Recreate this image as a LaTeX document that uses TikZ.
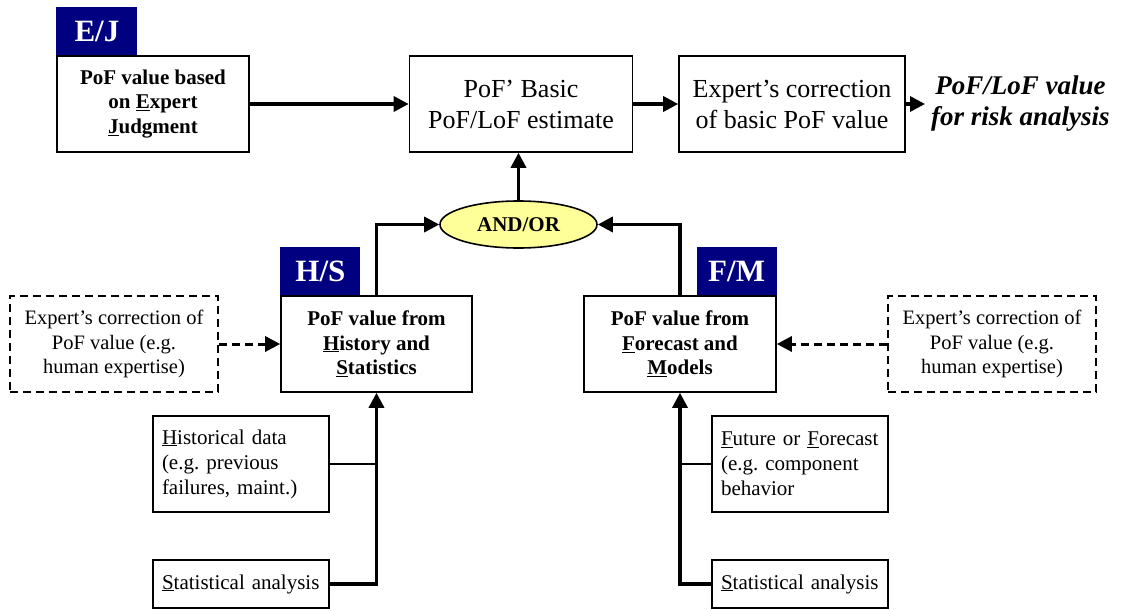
\documentclass[tikz,border=0pt]{standalone}
\usepackage{fontspec}
\setmainfont{Liberation Serif}
\usepackage{tikz}
\usetikzlibrary{shapes.geometric, arrows.meta, positioning}
\definecolor{tagnavy}{RGB}{0, 0, 128}
\definecolor{gateyellow}{RGB}{255, 255, 153}
\frenchspacing

\tikzset{
  pbox/.style={draw, line width=1.6pt, fill=white, align=center, inner sep=2pt, minimum height=96pt, font=\fontsize{26}{31}\selectfont},
  srcbox/.style={pbox, font=\bfseries\fontsize{21}{24.5}\selectfont},
  tag/.style={fill=tagnavy, text=white, minimum width=80pt, minimum height=48pt, inner sep=0pt, font=\bfseries\fontsize{31}{31}\selectfont},
  databox/.style={draw, line width=1.6pt, align=left, text width=158pt, inner xsep=9pt, inner ysep=2pt, font=\fontsize{21}{25}\selectfont},
  corrbox/.style={draw, line width=2.6pt, dash pattern=on 8pt off 5pt, align=center, minimum width=208pt, minimum height=96pt, inner sep=2pt, font=\fontsize{20.5}{24.5}\selectfont},
  arr/.style={-{Triangle[length=15pt, width=15pt]}, line width=3.4pt},
}

\begin{document}
\begin{tikzpicture}[x=1pt, y=-1pt]
  \useasboundingbox (0,0) rectangle (1126,610);

  % Top row
  \node[srcbox, minimum width=192pt] (ej) at (153, 104) {PoF value based\\on \underline{E}xpert\\\underline{J}udgment};
  \node[tag, anchor=south west, minimum width=81pt] (ejtag) at (ej.north west) {E/J};
  \node[pbox, minimum width=223pt] (basic) at (521, 104) {PoF’ Basic\\PoF/LoF estimate};
  \node[pbox, minimum width=226pt] (corr) at (792, 104) {Expert’s correction\\of basic PoF value};
  \node[anchor=west, inner xsep=6pt, inner ysep=0pt, align=center, font=\bfseries\itshape\fontsize{27}{31}\selectfont] (out) at (925, 104) {PoF/LoF value\\for risk analysis};

  \draw[arr] (ej) -- (basic);
  \draw[arr] (basic) -- (corr);
  \draw[arr] (corr) -- (out.west);

  % Combination gate
  \node[draw, ellipse, line width=1.6pt, fill=gateyellow, minimum width=157pt, minimum height=47pt, inner sep=0pt, font=\bfseries\fontsize{21}{21}\selectfont] (andor) at (518.5, 224.5) {AND/OR};
  \draw[arr] (andor.north) -- (andor.north |- basic.south);

  % Source boxes
  \node[srcbox, minimum width=191pt] (hs) at (376.5, 344) {PoF value from\\\underline{H}istory and\\\underline{S}tatistics};
  \node[tag, anchor=south west] (hstag) at (hs.north west) {H/S};
  \node[srcbox, minimum width=192pt] (fm) at (680, 344) {PoF value from\\\underline{F}orecast and\\\underline{M}odels};
  \node[tag, anchor=south east] (fmtag) at (fm.north east) {F/M};

  \draw[arr] (hs.north) |- (andor.west);
  \draw[arr] (fm.north) |- (andor.east);

  % Expert corrections (dashed)
  \node[corrbox] (exl) at (114, 344) {Expert’s correction of\\PoF value (e.g.\\human expertise)};
  \node[corrbox] (exr) at (992, 344) {Expert’s correction of\\PoF value (e.g.\\human expertise)};
  \draw[arr, line width=3pt, dash pattern=on 8pt off 5pt] (exl) -- (hs);
  \draw[arr, line width=3pt, dash pattern=on 8pt off 5pt] (exr) -- (fm);

  % Input data
  \node[databox, minimum height=96pt] (hist) at (241, 464) {\underline{H}istorical data\\(e.g. previous\\failures, maint.)};
  \node[databox, minimum height=48pt] (statl) at (241, 584) {\underline{S}tatistical analysis};
  \node[databox, minimum height=96pt] (fut) at (800, 464) {\underline{F}uture or \underline{F}orecast\\(e.g. component\\behavior};
  \node[databox, minimum height=48pt] (statr) at (800, 584) {\underline{S}tatistical analysis};

  \draw[arr] (statl.east) -| (hs.south);
  \draw[line width=2.2pt] (hist.east) -- (hist.east -| hs.south);
  \draw[arr] (statr.west) -| (fm.south);
  \draw[line width=2.2pt] (fut.west) -- (fut.west -| fm.south);
\end{tikzpicture}
\end{document}
